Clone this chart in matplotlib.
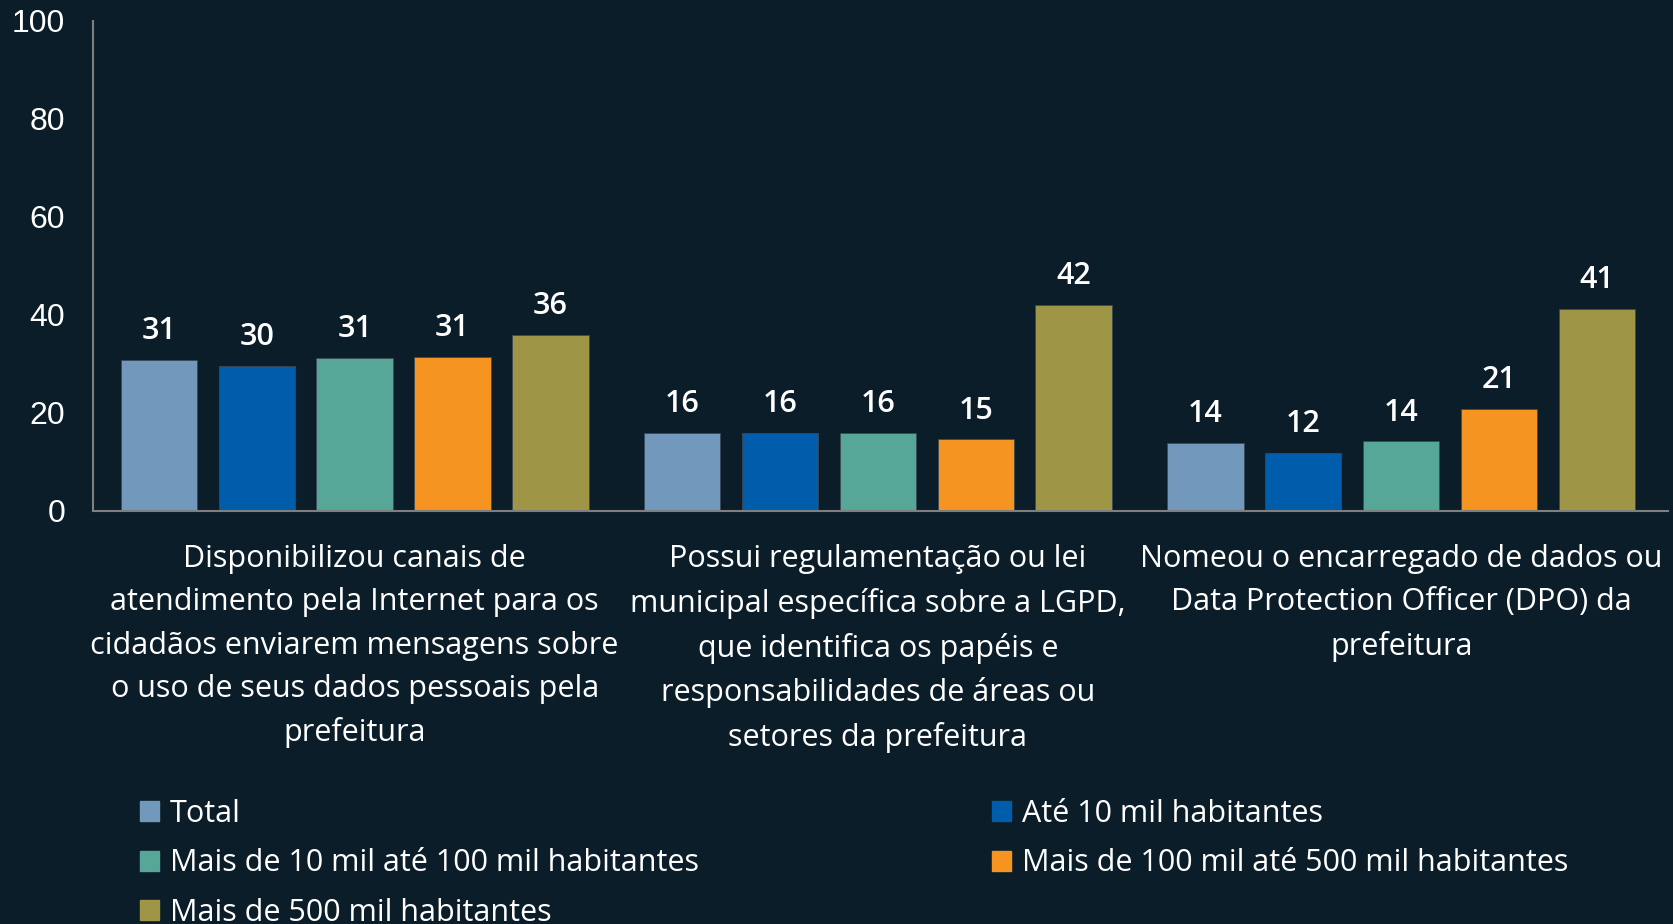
import matplotlib.pyplot as plt
import matplotlib.patches as mpatches
import numpy as np

categories = [
    "Disponibilizou canais de\natendimento pela Internet para os\ncidadãos enviarem mensagens sobre\no uso de seus dados pessoais pela\nprefeitura",
    "Possui regulamentação ou lei\nmunicipal específica sobre a LGPD,\nque identifica os papéis e\nresponsabilidades de áreas ou\nsetores da prefeitura",
    "Nomeou o encarregado de dados ou\nData Protection Officer (DPO) da\nprefeitura",
]
series = [
    "Total",
    "Até 10 mil habitantes",
    "Mais de 10 mil até 100 mil habitantes",
    "Mais de 100 mil até 500 mil habitantes",
    "Mais de 500 mil habitantes",
]
total = [30.9, 15.9, 13.9]
ate_10 = [29.6, 15.9, 11.8]
de_10_100 = [31.2, 15.9, 14.2]
de_100_500 = [31.4, 14.6, 20.9]
mais_500 = [35.9, 42.0, 41.2]
values = [total, ate_10, de_10_100, de_100_500, mais_500]
colors = ["#7299bb", "#005dab", "#56a797", "#f59420", "#9e9646"]

bg = "#0c1d2a"
plt.rcParams['font.family'] = ['Open Sans', 'DejaVu Sans']

fig = plt.figure(figsize=(16.73, 9.24), dpi=100, facecolor=bg)
ax = fig.add_axes([93 / 1673, 1 - 511 / 924, (1668 - 93) / 1673, (511 - 21) / 924])
ax.set_facecolor(bg)

x = np.arange(len(categories))
slot = 0.187
width = 0.146
handles = []
for i, (vals, col) in enumerate(zip(values, colors)):
    pos = x + (i - 2) * slot
    bars = ax.bar(pos, vals, width, color=col, edgecolor="#3a4a55", linewidth=0.6)
    handles.append(mpatches.Patch(color=col, label=series[i]))
    for b, v in zip(bars, vals):
        ax.annotate(f"{v:.0f}", (b.get_x() + b.get_width() / 2, v),
                    xytext=(0, 10), textcoords="offset points",
                    ha="center", va="bottom", color="white",
                    fontsize=22, fontweight="semibold")

ax.set_xlim(-0.5, 2.51)
ax.set_ylim(0, 100)
ax.set_yticks([0, 20, 40, 60, 80, 100])
ax.set_xticks(x)
ax.set_xticklabels(categories, color="white", fontsize=22, linespacing=1.57)
for lab in ax.get_yticklabels():
    lab.set_family(['Liberation Sans', 'DejaVu Sans'])
ax.tick_params(axis="y", colors="white", labelsize=23, length=0, pad=20)
ax.tick_params(axis="x", colors="white", length=0, pad=24)
for s in ["top", "right"]:
    ax.spines[s].set_visible(False)
ax.spines["left"].set_color("#7f7f7f")
ax.spines["bottom"].set_color("#7f7f7f")
ax.spines["left"].set_linewidth(1.5)
ax.spines["bottom"].set_linewidth(1.5)

order = [0, 2, 4, 1, 3]
leg = fig.legend([handles[k] for k in order], [series[k] for k in order],
                 ncol=2, loc="upper left", bbox_to_anchor=(112 / 1673, 1 - 771 / 924),
                 frameon=False, fontsize=22, labelcolor="white",
                 handlelength=0.63, handleheight=0.63, handletextpad=0.36,
                 columnspacing=9.6, labelspacing=0.65)

fig.savefig("out.png", dpi=100, facecolor=bg)
